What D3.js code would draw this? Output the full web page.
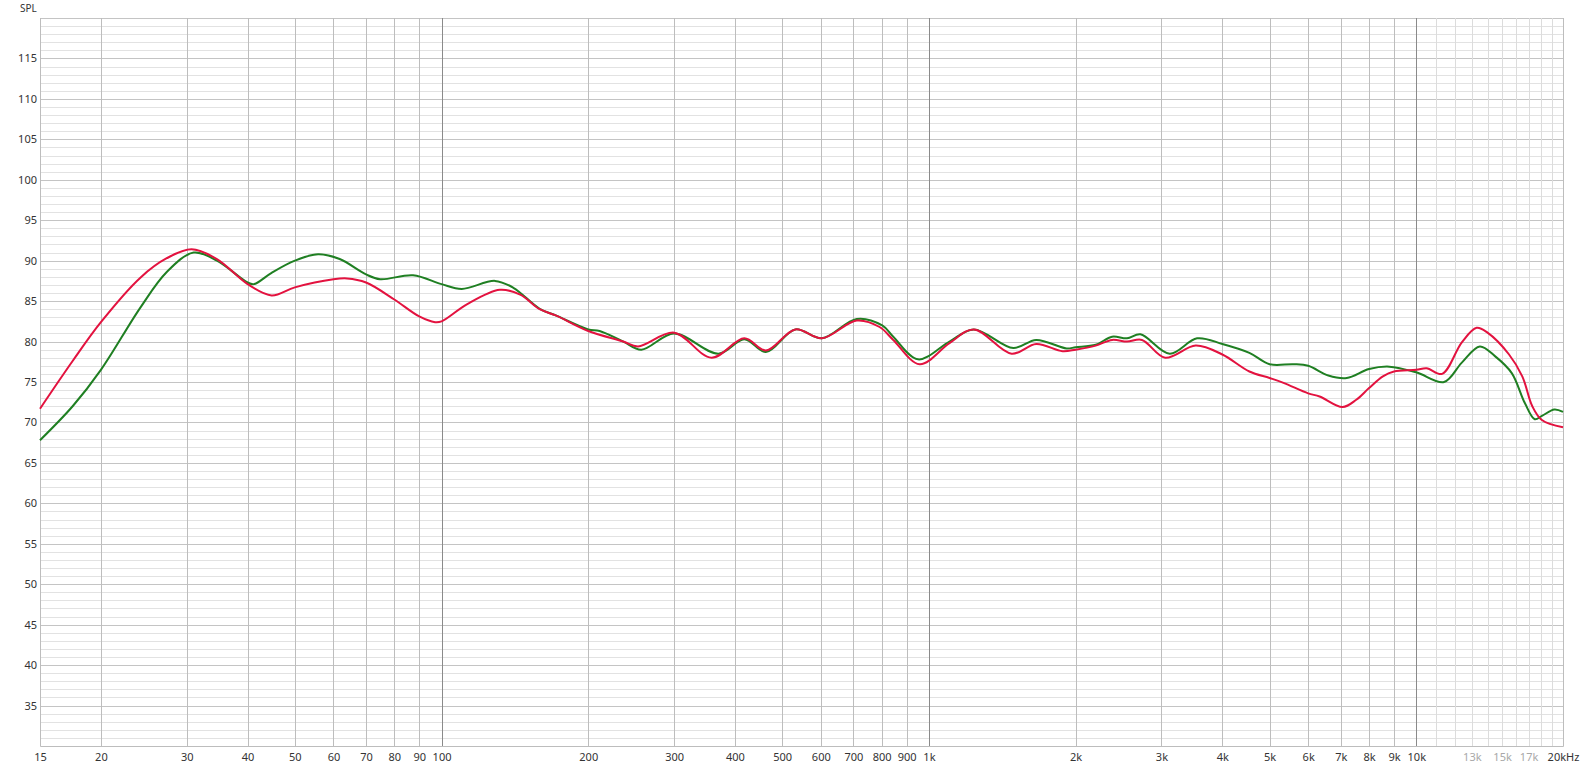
<!DOCTYPE html>
<html>
<head>
<meta charset="utf-8">
<script src="https://cdn.jsdelivr.net/npm/d3@7"></script>
<style>
  body { margin: 0; background: #fff; }
  .tick text { font-family: "Noto Sans", sans-serif; font-size: 11px; fill: #333; }
</style>
</head>
<body>
<div id="chart"></div>
<script>
// tick labels along the frequency axis
const xTicks = [15, 20, 30, 40, 50, 60, 70, 80, 90, 100, 200, 300, 400, 500, 600, 700, 800, 900,
    1000, 2000, 3000, 4000, 5000, 6000, 7000, 8000, 9000, 10000, 13000, 15000, 17000, 20000];
const xTickLabels = ["15", "20", "30", "40", "50", "60", "70", "80", "90", "100", "200", "300", "400", "500",
    "600", "700", "800", "900", "1k", "2k", "3k", "4k", "5k", "6k", "7k", "8k", "9k", "10k", "13k", "15k", "17k", "20kHz"];
const xFaintTicks = [13000, 15000, 17000];
const yTicks = [35, 40, 45, 50, 55, 60, 65, 70, 75, 80, 85, 90, 95, 100, 105, 110, 115];

// red measurement
const redFreq = [15, 17.5, 20, 24.1, 27.3, 30.7, 34.6, 40, 44.8, 50, 60, 64, 70, 80, 90, 97, 100, 112.7, 131.7,
    145, 159, 172, 200, 236, 253, 300, 358, 418, 463, 532, 603, 711, 792, 845, 957, 1102, 1236, 1478, 1660,
    1880, 2000, 2199, 2376, 2550, 2736, 3053, 3527, 4000, 4545, 5000, 5340, 6000, 6333, 7060, 7530, 8000,
    8540, 9000, 10000, 10500, 11300, 12400, 13300, 14000, 15500, 16500, 17300, 18100, 20000];
const redDb = [71.7, 77.6, 82.4, 87.9, 90.3, 91.4, 90.2, 87.1, 85.7, 86.7, 87.7, 87.8, 87.3, 85.2, 83.1, 82.4, 82.5,
    84.6, 86.4, 85.8, 84.0, 83.2, 81.3, 80.0, 79.4, 81.1, 78.0, 80.4, 78.9, 81.5, 80.4, 82.6, 81.8, 80.2, 77.2,
    79.8, 81.5, 78.5, 79.7, 78.8, 79.0, 79.5, 80.2, 80.0, 80.2, 78.0, 79.5, 78.4, 76.3, 75.5, 74.9, 73.6, 73.2,
    71.9, 72.8, 74.25, 75.7, 76.3, 76.5, 76.7, 76.0, 79.9, 81.7, 81.1, 78.4, 75.7, 72.0, 70.3, 69.4];

// green measurement
const greenFreq = [15, 17.5, 20, 24.1, 27.3, 31, 34.6, 40, 41.2, 44.8, 50, 55.8, 61.8, 70, 74.8, 87.4, 100, 110,
    128.7, 140.4, 159, 172, 200, 211, 236, 257, 300, 370, 418, 463, 532, 603, 711, 802, 845, 950, 1102, 1236,
    1490, 1660, 1917, 2000, 2199, 2376, 2550, 2716, 3120, 3550, 4000, 4545, 5000, 5600, 6000, 6600, 7200,
    8000, 8800, 10000, 11400, 12400, 13500, 14500, 15700, 16700, 17500, 18100, 19200, 20000];
const greenDb = [67.8, 72.0, 76.5, 84.2, 88.6, 91.0, 90.0, 87.3, 87.1, 88.5, 90.0, 90.8, 90.2, 88.3, 87.7, 88.2,
    87.1, 86.5, 87.5, 86.65, 84.05, 83.2, 81.5, 81.3, 80.0, 79.0, 81.0, 78.5, 80.3, 78.7, 81.5, 80.4, 82.8, 82.0,
    80.6, 77.8, 80.0, 81.5, 79.2, 80.2, 79.15, 79.3, 79.6, 80.6, 80.4, 80.9, 78.5, 80.4, 79.7, 78.6, 77.2, 77.2,
    77.0, 75.8, 75.5, 76.6, 76.9, 76.2, 75.0, 77.4, 79.4, 78.2, 76.1, 72.4, 70.4, 70.8, 71.6, 71.3];

var margin = {top: 18, right: 20, bottom: 24, left: 40},
    width = 1583 - margin.left - margin.right,
    height = 770 - margin.top - margin.bottom;

var xScale = d3.scaleLog().domain([15, 20000]).range([0, width]);
var yScale = d3.scaleLinear().domain([30, 120]).range([height, 0]);

var root = d3.select("#chart").append("svg")
    .attr("width", width + margin.left + margin.right)
    .attr("height", height + margin.top + margin.bottom);

var svg = root.append("g")
    .attr("transform", "translate(" + margin.left + "," + margin.top + ")");

// horizontal grid, 1 dB steps
const dbLines = d3.range(31, 121);
svg.append("g").selectAll("line")
    .data(dbLines)
    .join("line")
    .attr("x1", 0).attr("x2", width)
    .attr("y1", d => Math.round(yScale(d)) + 0.5)
    .attr("y2", d => Math.round(yScale(d)) + 0.5)
    .attr("stroke", d => d % 5 === 0 ? "#c4c4c4" : "#e2e2e2")
    .attr("stroke-width", 1);

// vertical grid
var freqLines = [];
[10, 100, 1000].forEach(dec => {
    for (let m = 2; m <= 10; m++) freqLines.push(dec * m);
});
for (let k = 11; k <= 19; k++) freqLines.push(k * 1000);
freqLines = freqLines.filter(f => f > 15 && f < 20000);

svg.append("g").selectAll("line")
    .data(freqLines)
    .join("line")
    .attr("y1", 0).attr("y2", height)
    .attr("x1", d => Math.round(xScale(d)) + 0.5)
    .attr("x2", d => Math.round(xScale(d)) + 0.5)
    .attr("stroke", d => (d === 100 || d === 1000 || d === 10000) ? "#8a8a8a" : (d > 10000 ? "#dcdcdc" : "#bdbdbd"));

// frame
svg.append("path")
    .attr("d", `M0.5,0V${height + 0.5}H${width + 0.5}V0`)
    .attr("fill", "none")
    .attr("stroke", "#bdbdbd");

var xAxis = d3.axisBottom(xScale)
    .tickValues(xTicks)
    .tickSize(0)
    .tickPadding(7)
    .tickFormat((d, i) => xTickLabels[i]);

var gx = svg.append("g")
    .attr("transform", "translate(0," + height + ")")
    .call(xAxis);
gx.select(".domain").remove();
gx.selectAll(".tick text")
    .filter(d => xFaintTicks.includes(d))
    .style("fill", "#a8a8a8");

var yAxis = d3.axisLeft(yScale)
    .tickValues(yTicks)
    .tickSize(0)
    .tickPadding(3);

var gy = svg.append("g").call(yAxis);
gy.select(".domain").remove();

root.append("text")
    .attr("x", 20)
    .attr("y", 12)
    .style("font-family", "\"Noto Sans\", sans-serif")
    .style("font-size", "10px")
    .style("fill", "#333")
    .text("SPL");

// smooth curve through the read points
const line = d3.line()
    .x(d => xScale(d[0]))
    .y(d => yScale(d[1]))
    .curve(d3.curveCatmullRom.alpha(0.5));

const greenData = greenFreq.map((f, i) => [f, greenDb[i]]);
const redData = redFreq.map((f, i) => [f, redDb[i]]);

svg.append("path")
    .attr("d", line(greenData))
    .attr("stroke", "#1f7f22")
    .attr("stroke-width", 2)
    .attr("fill", "none");

svg.append("path")
    .attr("d", line(redData))
    .attr("stroke", "#e3123f")
    .attr("stroke-width", 2)
    .attr("fill", "none");
</script>
</body>
</html>
